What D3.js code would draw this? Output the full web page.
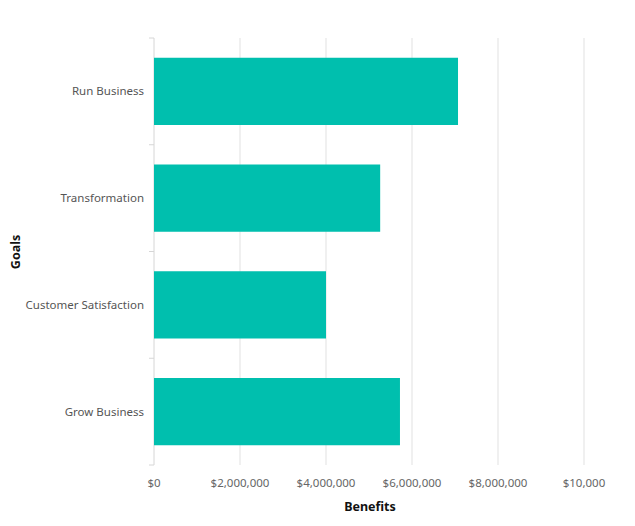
<!DOCTYPE html>
<html><head><meta charset="utf-8">
<script src="https://cdn.jsdelivr.net/npm/d3@7"></script>
<style>body{margin:0;background:#fff}text{font-family:"Noto Sans","Open Sans",sans-serif}</style>
</head><body><svg id="c" width="635" height="526"></svg>
<script>
const categories = ["Run Business","Transformation","Customer Satisfaction","Grow Business"];
const benefits = [7070000, 5260000, 4000000, 5720000];
const tickValues = [0,2000000,4000000,6000000,8000000,10000000];
const tickLabels = ["$0","$2,000,000","$4,000,000","$6,000,000","$8,000,000","$10,000"];

const svg = d3.select("#c");
const x = d3.scaleLinear().domain([0,10000000]).range([154,584]);
const y = d3.scaleBand().domain(categories).range([38,465]).paddingInner(0.37).paddingOuter(0.185);

// gridlines
svg.append("g").selectAll("line").data(tickValues.slice(1)).join("line")
  .attr("x1",d=>x(d)).attr("x2",d=>x(d)).attr("y1",38).attr("y2",465)
  .attr("stroke","#e1e1e1").attr("stroke-width",1);

// y axis line + ticks
svg.append("line").attr("x1",154).attr("x2",154).attr("y1",38).attr("y2",465).attr("stroke","#d6d6d6");
const bounds = [38].concat(categories.map(c=>y(c)+y.bandwidth()+y.step()*y.paddingInner()/2));
bounds[bounds.length-1]=465;
svg.append("g").selectAll("line").data(bounds).join("line")
  .attr("x1",149).attr("x2",154).attr("y1",d=>d).attr("y2",d=>d).attr("stroke","#d6d6d6");

// bars
svg.append("g").selectAll("rect").data(categories).join("rect")
  .attr("x",x(0)).attr("y",d=>y(d)).attr("height",y.bandwidth())
  .attr("width",(d,i)=>x(benefits[i])-x(0)).attr("fill","#00bfae");

// y labels
svg.append("g").selectAll("text").data(categories).join("text")
  .attr("x",144).attr("y",d=>y(d)+y.bandwidth()/2).attr("dy","0.35em")
  .attr("text-anchor","end").attr("font-size",11.5).attr("fill","#555").text(d=>d);

// x labels
svg.append("g").selectAll("text").data(tickValues).join("text")
  .attr("x",d=>x(d)).attr("y",487).attr("text-anchor","middle")
  .attr("font-size",11.5).attr("fill","#666").text((d,i)=>tickLabels[i]);

svg.append("text").attr("x",370).attr("y",511).attr("text-anchor","middle")
  .attr("font-size",12.5).attr("font-weight","bold").attr("fill","#111").text("Benefits");
svg.append("text").attr("transform","translate(20,252) rotate(-90)").attr("text-anchor","middle")
  .attr("font-size",12.5).attr("font-weight","bold").attr("fill","#111").text("Goals");
</script></body></html>
